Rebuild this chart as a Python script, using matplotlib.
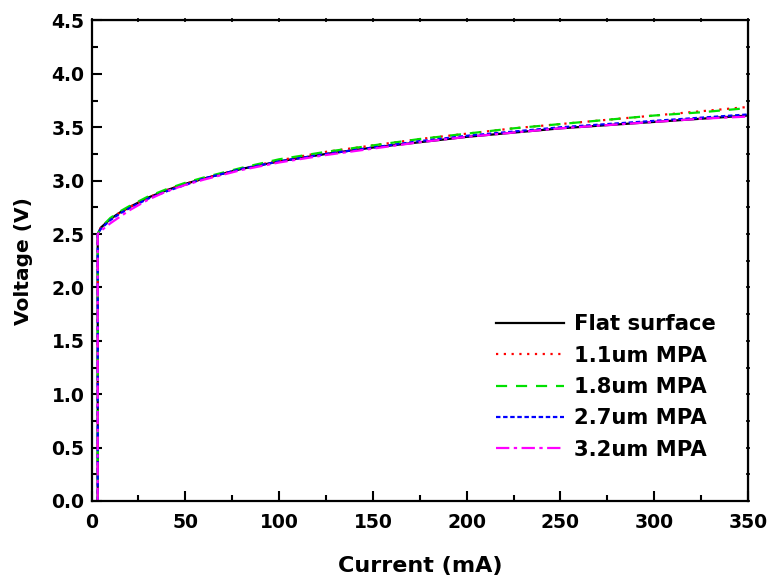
#!/usr/bin/env python3
import matplotlib
matplotlib.use("Agg")
import matplotlib.pyplot as plt
from matplotlib.ticker import MultipleLocator, NullFormatter

plt.rcParams["font.family"] = ["DejaVu Sans"]
plt.rcParams["font.weight"] = "bold"

# I-V data (current in mA, voltage in V)
current = [3.3, 3.3, 5, 10, 15, 20, 30, 40, 50, 60, 80, 100, 125, 150,
           175, 200, 225, 250, 275, 300, 325, 350]
v_flat = [0.0, 2.50, 2.56, 2.64, 2.70, 2.75, 2.84, 2.91, 2.97, 3.02, 3.11,
          3.18, 3.25, 3.31, 3.36, 3.41, 3.45, 3.49, 3.52, 3.55, 3.58, 3.61]
v_11 = [0.0, 2.50, 2.56, 2.64, 2.70, 2.75, 2.84, 2.91, 2.97, 3.02, 3.11,
        3.19, 3.27, 3.33, 3.39, 3.44, 3.49, 3.53, 3.57, 3.61, 3.65, 3.69]
v_18 = [0.0, 2.50, 2.56, 2.65, 2.71, 2.76, 2.85, 2.92, 2.98, 3.03, 3.12,
        3.20, 3.27, 3.33, 3.39, 3.44, 3.49, 3.53, 3.57, 3.61, 3.64, 3.68]
v_27 = [0.0, 2.50, 2.55, 2.63, 2.69, 2.74, 2.83, 2.90, 2.96, 3.02, 3.11,
        3.18, 3.25, 3.31, 3.37, 3.42, 3.46, 3.50, 3.53, 3.56, 3.59, 3.62]
v_32 = [0.0, 2.50, 2.53, 2.60, 2.66, 2.72, 2.82, 2.90, 2.96, 3.01, 3.10,
        3.17, 3.24, 3.30, 3.36, 3.41, 3.45, 3.49, 3.52, 3.55, 3.58, 3.60]

labels = ["Flat surface", "1.1um MPA", "1.8um MPA", "2.7um MPA", "3.2um MPA"]
colors = ["black", "#ff0000", "#00e000", "#0000ff", "#ff00ff"]
styles = ["-", (0, (1, 2.5)), (0, (5, 4)), (0, (2, 1.2)), (0, (6, 2, 1.5, 2))]
series = [v_flat, v_11, v_18, v_27, v_32]

fig = plt.figure(figsize=(7.71, 5.85), dpi=100)
ax = fig.add_axes([0.1187, 0.1436, 0.8515, 0.8214])

for v, lab, c, ls in zip(series, labels, colors, styles):
    ax.plot(current, v, color=c, linestyle=ls, linewidth=1.6, label=lab)

ax.set_xlim(0, 350)
ax.set_ylim(0, 4.5)
ax.xaxis.set_major_locator(MultipleLocator(50))
ax.xaxis.set_minor_locator(MultipleLocator(25))
ax.yaxis.set_major_locator(MultipleLocator(0.5))
ax.yaxis.set_minor_locator(MultipleLocator(0.25))
ax.yaxis.set_major_formatter(plt.FormatStrFormatter("%.1f"))

ax.tick_params(which="major", direction="in", length=7.5, width=1.5,
               labelsize=13.5, pad=5)
ax.tick_params(axis="x", which="major", pad=9)
ax.tick_params(which="minor", direction="in", length=4.5, width=1.5)
for sp in ax.spines.values():
    sp.set_linewidth(1.6)

# tiny ticks along the top and right frame
top = ax.secondary_xaxis("top")
right = ax.secondary_yaxis("right")
for sec in (top, right):
    axis = sec.xaxis if sec is top else sec.yaxis
    step = 50 if sec is top else 0.5
    axis.set_major_locator(MultipleLocator(step))
    axis.set_minor_locator(MultipleLocator(step / 2))
    axis.set_major_formatter(NullFormatter())
    sec.tick_params(which="both", direction="inout", length=2.5, width=1.2)

ax.set_xlabel("Current (mA)", fontsize=16, fontweight="bold", labelpad=17)
ax.set_ylabel("Voltage (V)", fontsize=14.5, fontweight="bold", labelpad=13)

ax.legend(loc="lower right", frameon=False, handlelength=3.2,
          handletextpad=0.45, labelspacing=0.54, borderaxespad=0,
          bbox_to_anchor=(0.963, 0.068), prop={"weight": "bold", "size": 15.2})

fig.savefig("out.png", dpi=100)
